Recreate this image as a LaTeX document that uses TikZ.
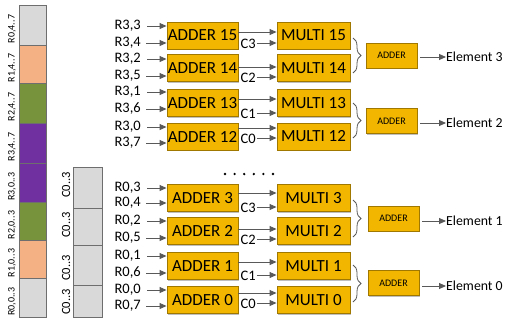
\documentclass[tikz,border=0pt]{standalone}
\usepackage{fontspec}
\setmainfont{Carlito}
\usetikzlibrary{arrows.meta,decorations.pathreplacing,shadows}
\definecolor{segGray}{HTML}{D9D9D9}
\definecolor{segOrange}{HTML}{F4B183}
\definecolor{segGreen}{HTML}{77933C}
\definecolor{segPurple}{HTML}{7030A0}
\definecolor{segEdge}{HTML}{6E6E6E}
\definecolor{opFill}{HTML}{F2B600}
\definecolor{opEdge}{HTML}{A07800}
\definecolor{wire}{HTML}{595959}

\begin{document}
\begin{tikzpicture}[x=1pt,y=-1pt,
  seg/.style={draw=segEdge,line width=0.8pt,minimum width=#1,inner sep=0pt},
  opbox/.style={draw=opEdge,line width=0.9pt,fill=opFill,inner sep=0pt,
    drop shadow={shadow xshift=1.2pt,shadow yshift=-1.2pt,fill=black,opacity=.25}},
  bigop/.style={opbox,minimum height=27pt,font=\fontsize{17}{19}\selectfont},
  sumbox/.style={opbox,minimum width=51pt,minimum height=25pt,font=\fontsize{10}{11}\selectfont},
  inlabel/.style={anchor=east,inner sep=0pt,text height=10pt,text depth=2.5pt,font=\fontsize{14.5}{16}\selectfont},
  clabel/.style={anchor=west,inner sep=1pt,text height=10pt,text depth=0pt,font=\fontsize{14.5}{16}\selectfont},
  outlabel/.style={anchor=west,inner sep=0pt,font=\fontsize{13.8}{15}\selectfont},
  arr/.style={draw=wire,line width=0.9pt,-{Triangle[length=7pt,width=6pt]},fill=wire},
  brc/.style={draw=wire,line width=0.8pt,decorate,decoration={brace,amplitude=8pt}},
  rlab/.style={rotate=90,inner sep=0pt,font=\fontsize{10}{11}\selectfont},
  clab/.style={rotate=90,inner sep=0pt,font=\fontsize{12.5}{13}\selectfont}]

\useasboundingbox (0,0) rectangle (505,322);

% register column (rows 0..3, halves 4..7 and 0..3)
\foreach \c/\ya/\yb/\txt/\nm in {
  segGray/5/45/{R0,4..7}/r0h, segOrange/45/83/{R1,4..7}/r1h,
  segGreen/83/123/{R2,4..7}/r2h, segPurple/123/163/{R3,4..7}/r3h,
  segPurple/163/202/{R3,0..3}/r3l, segGreen/202/240/{R2,0..3}/r2l,
  segOrange/240/278/{R1,0..3}/r1l, segGray/278/317/{R0,0..3}/r0l} {
  \node[seg=27pt,fill=\c,minimum height={\yb-\ya}] (\nm) at (32.5,{(\ya+\yb)/2}) {};
  \node[rlab] (\nm lab) at (12,{(\ya+\yb)/2+4}) {\txt};
}

% coefficient column
\foreach \ya/\yb/\yl/\nm in {167/208/185/k3, 208/245/225/k2, 245/285/268/k1, 285/317/302/k0} {
  \node[seg=29pt,fill=segGray,minimum height={\yb-\ya}] (\nm) at (87.5,{(\ya+\yb)/2}) {};
  \node[clab] (\nm lab) at (66,\yl) {C0..3};
}

% adder / multiplier lanes
\foreach \n/\yc/\r/\p/\q/\ya/\yb/\yu/\yk/\k in {
  15/35.5/3/3/4/26/43/32/43/3,
  14/68/3/2/5/59/76/67/77/2,
  13/103/3/1/6/92/109/99/113/1,
  12/136.5/3/0/7/127/143/128/138/0,
  3/198/0/3/4/188/203/193/207/3,
  2/231/0/2/5/221/238/229/239/2,
  1/266/0/1/6/256/273/262/275/1,
  0/300/0/0/7/290/306/293/303/0} {
  \node[bigop,minimum width=71pt] (add\n) at (202.5,\yc) {ADDER \n};
  \node[bigop,minimum width=73pt] (mul\n) at (313.5,\yc) {MULTI \n};
  \node[inlabel] (ina\n) at (141,\ya) {R\r,\p};
  \node[inlabel] (inb\n) at (141,\yb) {R\r,\q};
  \draw[arr] ([xshift=6pt]ina\n.east) -- (add\n.west |- ina\n.east);
  \draw[arr] ([xshift=5pt]inb\n.east) -- (add\n.west |- inb\n.east);
  \coordinate (sum\n) at (238,\yu);
  \draw[arr] (add\n.east |- sum\n) -- (mul\n.west |- sum\n);
  \node[clabel] (cof\n) at (239.5,\yk) {C\k};
  \draw[arr] (cof\n.east) -- (mul\n.west |- cof\n.east);
}

% reduction adders with their outputs
\foreach \e/\yc/\x/\yo/\ba/\bb/\hi/\lo in {
  3/55.5/391.5/57/38/73/15/14,
  2/121/391.5/123/103/138/13/12,
  1/218.5/393.5/221/200/237/3/2,
  0/283/393.5/286/265/302/1/0} {
  \node[sumbox] (red\e) at (\x,\yc) {ADDER};
  \node[outlabel] (out\e) at (446,\yo) {Element \e};
  \draw[arr] ([xshift=3pt]red\e.east |- out\e.west) -- (out\e.west);
  \coordinate (bt\e) at (353,\ba);
  \coordinate (bb\e) at (353,\bb);
  \draw[brc] (bt\e) -- (bb\e);
}

% ellipsis between the two groups of lanes
\foreach \i in {0,...,5}
  \fill (225+9.6*\i,174) circle (1.3pt);
\end{tikzpicture}
\end{document}
